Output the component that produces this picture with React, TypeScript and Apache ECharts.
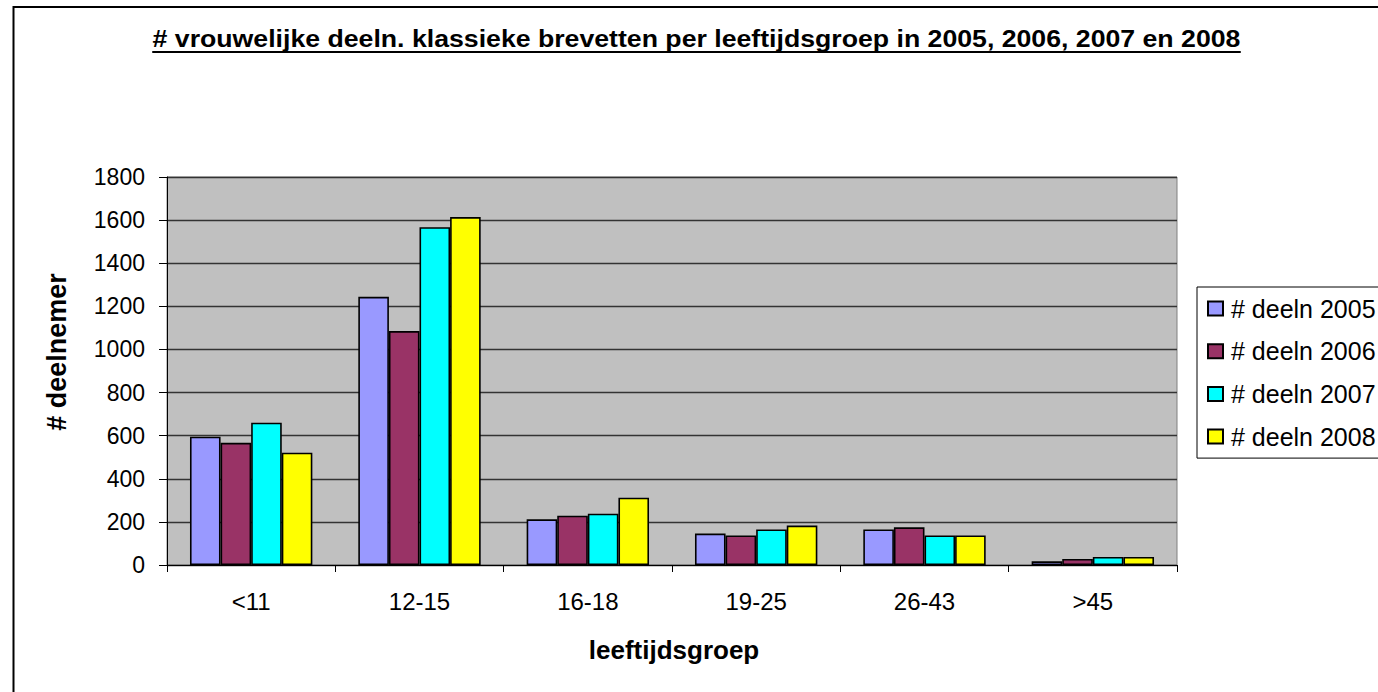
import React, { useEffect, useRef } from "react";
import * as echarts from "echarts";

const categories = ["<11", "12-15", "16-18", "19-25", "26-43", ">45"];
const seriesNames = ["# deeln 2005", "# deeln 2006", "# deeln 2007", "# deeln 2008"];
const values2005 = [595, 1244, 212, 146, 165, 17];
const values2006 = [567, 1085, 229, 137, 175, 28];
const values2007 = [660, 1567, 238, 165, 137, 37];
const values2008 = [521, 1614, 312, 183, 137, 37];
const colors = ["#9999FF", "#993366", "#00FFFF", "#FFFF00"];
const titleText = "# vrouwelijke deeln. klassieke brevetten per leeftijdsgroep in 2005, 2006, 2007 en 2008";
const xName = "leeftijdsgroep";
const yName = "# deelnemer";

const FONT = '"Liberation Sans", Arial, Helvetica, sans-serif';

function measure(text: string, font: string): number {
  const c = document.createElement("canvas");
  const ctx = c.getContext("2d");
  if (!ctx) return text.length * 12;
  ctx.font = font;
  return ctx.measureText(text).width;
}

export default function App() {
  const ref = useRef<HTMLDivElement>(null);
  useEffect(() => {
    document.body.style.margin = "0";
    if (!ref.current) return;
    const chart = echarts.init(ref.current, undefined, { renderer: "svg" });
    const allValues = [values2005, values2006, values2007, values2008];
    const titleSize = 23;
    const titleScale = 1.16;
    const tw = measure(titleText, `bold ${titleSize}px ${FONT}`);
    chart.setOption({
      animation: false,
      backgroundColor: "#ffffff",
      textStyle: { fontFamily: FONT },
      grid: {
        left: 167,
        top: 177,
        right: 201,
        bottom: 127,
        show: true,
        backgroundColor: "#C0C0C0",
        borderColor: "#808080",
        borderWidth: 1,
      },
      legend: {
        orient: "vertical",
        left: 1197,
        top: 287,
        padding: [9, 40, 9, 10],
        itemGap: 17.7,
        itemWidth: 15,
        itemHeight: 14,
        icon: "rect",
        borderColor: "#000",
        borderWidth: 1,
        backgroundColor: "#fff",
        textStyle: { fontSize: 25, lineHeight: 24, color: "#000", fontFamily: FONT, padding: [0, 0, 0, 3] },
        data: seriesNames,
      },
      xAxis: {
        type: "category",
        data: categories,
        axisLine: { show: true, lineStyle: { color: "#000", width: 1 } },
        axisTick: { show: true, length: 7, lineStyle: { color: "#000" } },
        axisLabel: { fontSize: 24, color: "#000", margin: 24, fontFamily: FONT },
      },
      yAxis: {
        type: "value",
        min: 0,
        max: 1800,
        interval: 200,
        axisLine: { show: true, lineStyle: { color: "#000", width: 1 } },
        axisTick: { show: true, length: 8, lineStyle: { color: "#000" } },
        axisLabel: {
          fontSize: 23,
          color: "#000",
          margin: 22,
          fontFamily: FONT,
          formatter: (v: number) => String(v),
        },
        splitLine: { show: true, lineStyle: { color: "#333333", width: 1.3 } },
      },
      series: seriesNames.map((name, i) => ({
        name,
        type: "bar",
        data: allValues[i],
        barGap: "0%",
        barCategoryGap: "27.3%",
        itemStyle: { color: colors[i], borderColor: "#000", borderWidth: 1.6 },
      })),
      graphic: [
        {
          type: "rect",
          shape: { x: 13.5, y: 7, width: 1500, height: 800 },
          style: { fill: "none", stroke: "#000", lineWidth: 2 },
          silent: true,
        },
        {
          type: "group",
          x: 696.5,
          y: 0,
          scaleX: titleScale,
          children: [
            {
              type: "text",
              x: 0,
              y: 39,
              style: {
                text: titleText,
                fontSize: titleSize,
                fontWeight: "bold",
                fontFamily: FONT,
                fill: "#000",
                align: "center",
                verticalAlign: "middle",
                textAlign: "center",
                textVerticalAlign: "middle",
              },
            },
            {
              type: "line",
              shape: { x1: -tw / 2, y1: 52, x2: tw / 2, y2: 52 },
              style: { stroke: "#000", lineWidth: 2 },
            },
          ],
        },
        {
          type: "text",
          x: 674,
          y: 650,
          style: {
            text: xName,
            fontSize: 26,
            fontWeight: "bold",
            fontFamily: FONT,
            fill: "#000",
            align: "center",
            verticalAlign: "middle",
            textAlign: "center",
            textVerticalAlign: "middle",
          },
        },
        {
          type: "text",
          x: 57,
          y: 352,
          rotation: Math.PI / 2,
          style: {
            text: yName,
            fontSize: 27,
            fontWeight: "bold",
            fontFamily: FONT,
            fill: "#000",
            align: "center",
            verticalAlign: "middle",
            textAlign: "center",
            textVerticalAlign: "middle",
          },
        },
      ],
    });
    return () => chart.dispose();
  }, []);
  return <div ref={ref} style={{ width: 1378, height: 692 }} />;
}
